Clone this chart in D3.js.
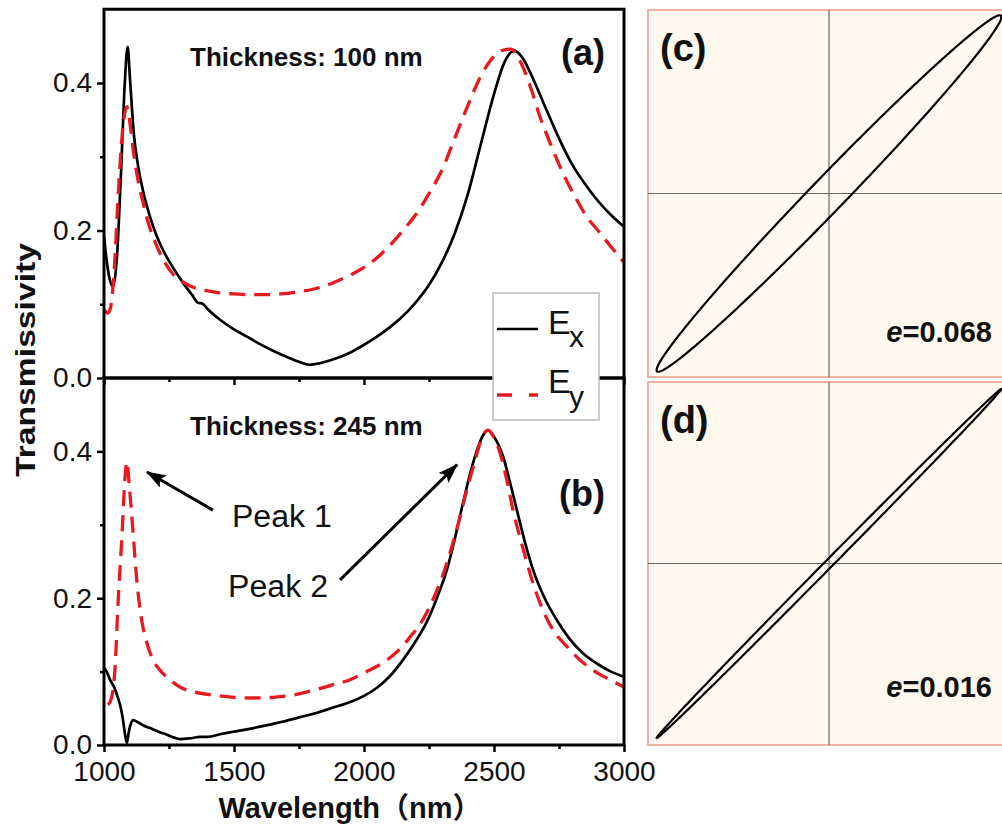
<!DOCTYPE html>
<html>
<head>
<meta charset="utf-8">
<script src="https://cdn.jsdelivr.net/npm/d3@7"></script>
<style>
  body { margin: 0; background: #fff; }
</style>
</head>
<body>
<div id="chart"></div>
<script>
// Axis ticks
const wavelengthTicks = [1000, 1500, 2000, 2500, 3000];
const wavelengthMinor = [1250, 1750, 2250, 2750];
const transTicks = [0, 0.2, 0.4];
const transMinor = [0.1, 0.3];

// Spectra, [wavelength nm, transmissivity]
const ex100 = [[1000,0.192],[1010,0.16],[1020,0.137],[1035,0.124],[1050,0.165],[1065,0.275],[1080,0.40],[1091,0.449],
  [1100,0.405],[1115,0.33],[1130,0.29],[1150,0.254],[1175,0.221],[1200,0.195],[1235,0.168],[1265,0.15],[1300,0.131],
  [1340,0.112],[1362,0.102],[1378,0.101],[1400,0.093],[1450,0.078],[1500,0.066],[1550,0.056],[1600,0.046],[1650,0.037],
  [1700,0.029],[1750,0.022],[1790,0.018],[1830,0.02],[1880,0.025],[1950,0.035],[2000,0.045],[2050,0.056],[2100,0.069],
  [2150,0.084],[2200,0.103],[2250,0.126],[2300,0.157],[2350,0.197],[2400,0.25],[2450,0.318],[2500,0.385],[2540,0.428],
  [2578,0.444],[2610,0.434],[2650,0.406],[2700,0.365],[2750,0.325],[2800,0.29],[2850,0.263],[2900,0.24],[2950,0.221],[3000,0.205]];
const ey100 = [[1000,0.092],[1015,0.088],[1025,0.095],[1040,0.15],[1055,0.25],[1070,0.33],[1088,0.368],[1100,0.345],
  [1112,0.31],[1130,0.27],[1150,0.238],[1175,0.205],[1204,0.178],[1235,0.156],[1265,0.141],[1300,0.131],[1350,0.122],
  [1400,0.118],[1450,0.115],[1500,0.114],[1560,0.113],[1620,0.113],[1680,0.114],[1750,0.117],[1800,0.12],[1850,0.125],
  [1900,0.132],[1950,0.14],[2000,0.15],[2050,0.163],[2100,0.18],[2150,0.2],[2200,0.222],[2250,0.25],[2300,0.282],
  [2350,0.326],[2400,0.37],[2450,0.41],[2500,0.436],[2540,0.445],[2565,0.446],[2600,0.43],[2640,0.395],[2677,0.354],
  [2720,0.315],[2765,0.278],[2810,0.247],[2858,0.218],[2900,0.2],[2950,0.178],[3000,0.157]];
const ex245 = [[1000,0.105],[1010,0.1],[1023,0.089],[1040,0.078],[1054,0.064],[1065,0.05],[1073,0.034],[1082,0.012],
  [1088,0.003],[1094,0.015],[1100,0.025],[1112,0.034],[1130,0.031],[1150,0.027],[1177,0.023],[1210,0.018],[1242,0.014],
  [1270,0.01],[1292,0.008],[1330,0.009],[1369,0.011],[1400,0.011],[1450,0.015],[1496,0.018],[1560,0.022],[1627,0.027],
  [1690,0.032],[1754,0.038],[1820,0.044],[1881,0.051],[1950,0.059],[2000,0.067],[2050,0.078],[2100,0.094],[2150,0.116],
  [2200,0.142],[2242,0.168],[2280,0.2],[2319,0.239],[2350,0.282],[2381,0.33],[2410,0.372],[2435,0.402],[2458,0.422],
  [2477,0.429],[2500,0.42],[2535,0.393],[2560,0.36],[2588,0.32],[2620,0.275],[2650,0.239],[2695,0.2],[2742,0.17],
  [2790,0.145],[2842,0.125],[2900,0.11],[2950,0.1],[3000,0.093]];
const ey245 = [[1015,0.055],[1025,0.06],[1042,0.102],[1054,0.193],[1069,0.284],[1080,0.36],[1088,0.386],[1098,0.35],
  [1108,0.307],[1127,0.221],[1145,0.17],[1165,0.139],[1190,0.115],[1215,0.102],[1250,0.09],[1292,0.079],[1350,0.072],
  [1419,0.068],[1500,0.065],[1573,0.064],[1650,0.065],[1727,0.068],[1800,0.074],[1870,0.081],[1946,0.089],[2010,0.1],
  [2073,0.112],[2130,0.128],[2177,0.147],[2225,0.17],[2265,0.198],[2300,0.228],[2331,0.262],[2365,0.305],[2396,0.348],
  [2425,0.385],[2446,0.411],[2465,0.426],[2477,0.429],[2495,0.422],[2523,0.398],[2550,0.36],[2573,0.32],[2600,0.283],
  [2627,0.248],[2655,0.215],[2688,0.184],[2730,0.155],[2781,0.134],[2830,0.116],[2881,0.102],[2940,0.09],[3000,0.079]];

// Panel texts
const panelLabels = ["(a)", "(b)"];
const thicknessLabels = ["Thickness: 100 nm", "Thickness: 245 nm"];
const seriesNames = ["E", "E"];
const seriesSubs = ["x", "y"];

// Annotation arrows in panel (b): [tail, tip] in data units
const peakNames = ["Peak 1", "Peak 2"];
const peakArrows = [[[1419, 0.32], [1165, 0.372]], [[1908, 0.225], [2358, 0.382]]];
const peakTextPos = [[1492, 0.297], [1477, 0.202]];

// Polarisation ellipses (c), (d)
const ellipseLabels = ["(c)", "(d)"];
const ellipseE = ["0.068", "0.016"];
const ellipseAmpX = [1.0, 1.0];
const ellipseAmpY = [1.02, 1.01];
const ellipsePhase = [0.137, 0.032];

const red = "#e8191f";
const font = "Arial, 'Liberation Sans', 'Noto Sans CJK SC', sans-serif";

const svg = d3.select("#chart")
    .append("svg")
    .attr("width", 1002)
    .attr("height", 828)
    .style("font-family", font);

const defs = svg.append("defs");
defs.append("marker")
    .attr("id", "arrow")
    .attr("markerUnits", "userSpaceOnUse")
    .attr("viewBox", "0 0 20 14")
    .attr("markerWidth", 20)
    .attr("markerHeight", 14)
    .attr("refX", 19)
    .attr("refY", 7)
    .attr("orient", "auto")
    .append("path")
    .attr("d", "M0,0 L20,7 L0,14 L4,7 Z")
    .attr("fill", "#000");

// Scales
const x = d3.scaleLinear().domain([1000, 3000]).range([104, 624]);
const yScales = [
    d3.scaleLinear().domain([0, 0.5]).range([378, 9.25]),
    d3.scaleLinear().domain([0, 0.5]).range([745, 378])
];

const panels = [
    {ex: ex100, ey: ey100},
    {ex: ex245, ey: ey245}
];

function styleAxis(g, width) {
    g.select(".domain").remove();
    g.selectAll(".tick line").attr("stroke", "#000").attr("stroke-width", width);
    g.selectAll(".tick text")
        .attr("fill", "#111")
        .style("font-size", "28px")
        .style("font-family", font);
}

panels.forEach((p, i) => {
    const y = yScales[i];
    const top = y.range()[1], bottom = y.range()[0];
    const g = svg.append("g");

    defs.append("clipPath").attr("id", "clip" + i)
        .append("rect")
        .attr("x", 104).attr("y", top)
        .attr("width", 520).attr("height", bottom - top);

    const line = d3.line()
        .x(d => x(d[0]))
        .y(d => y(d[1]))
        .curve(d3.curveMonotoneX);

    g.append("path")
        .datum(p.ex)
        .attr("d", line)
        .attr("fill", "none")
        .attr("stroke", "#000")
        .attr("stroke-width", 2.7)
        .attr("clip-path", `url(#clip${i})`);

    g.append("path")
        .datum(p.ey)
        .attr("d", line)
        .attr("fill", "none")
        .attr("stroke", red)
        .attr("stroke-width", 3.3)
        .attr("stroke-dasharray", "16,9")
        .attr("clip-path", `url(#clip${i})`);

    // Y axis
    g.append("g")
        .attr("transform", "translate(104,0)")
        .call(d3.axisLeft(y).tickValues(transTicks).tickFormat(d3.format(".1f")).tickSize(7).tickPadding(5))
        .call(a => styleAxis(a, 2.5));
    g.append("g")
        .attr("transform", "translate(104,0)")
        .call(d3.axisLeft(y).tickValues(transMinor).tickFormat("").tickSize(4))
        .call(a => styleAxis(a, 2.5));

    // X axis
    g.append("g")
        .attr("transform", `translate(0,${bottom})`)
        .call(d3.axisBottom(x).tickValues(wavelengthTicks).tickSize(7).tickPadding(9)
            .tickFormat(i === 1 ? d3.format("d") : ""))
        .call(a => styleAxis(a, 2.5));
    g.append("g")
        .attr("transform", `translate(0,${bottom})`)
        .call(d3.axisBottom(x).tickValues(wavelengthMinor).tickFormat("").tickSize(4))
        .call(a => styleAxis(a, 2.5));

    // Frame
    g.append("rect")
        .attr("x", 104).attr("y", top)
        .attr("width", 520).attr("height", bottom - top)
        .attr("fill", "none")
        .attr("stroke", "#000")
        .attr("stroke-width", 3);

    g.append("text")
        .attr("x", x(1331))
        .attr("y", y(0.423))
        .attr("font-weight", "bold")
        .attr("font-size", 26)
        .attr("fill", "#111")
        .text(thicknessLabels[i]);

    g.append("text")
        .attr("x", 605)
        .attr("y", i === 0 ? 64.5 : 505.5)
        .attr("text-anchor", "end")
        .attr("font-weight", "bold")
        .attr("font-size", 36)
        .attr("fill", "#111")
        .text(panelLabels[i]);
});

// Peak annotations in panel (b)
const yb = yScales[1];
peakArrows.forEach((a, i) => {
    svg.append("line")
        .attr("x1", x(a[0][0])).attr("y1", yb(a[0][1]))
        .attr("x2", x(a[1][0])).attr("y2", yb(a[1][1]))
        .attr("stroke", "#000")
        .attr("stroke-width", 3)
        .attr("marker-end", "url(#arrow)");
    svg.append("text")
        .attr("x", x(peakTextPos[i][0]))
        .attr("y", yb(peakTextPos[i][1]))
        .attr("font-size", 31)
        .attr("textLength", 100)
        .attr("lengthAdjust", "spacingAndGlyphs")
        .attr("fill", "#111")
        .text(peakNames[i]);
});

// Axis titles
svg.append("text")
    .attr("transform", "translate(35,360) rotate(-90)")
    .attr("text-anchor", "middle")
    .attr("font-weight", "bold")
    .attr("font-size", 28)
    .attr("textLength", 234)
    .attr("lengthAdjust", "spacingAndGlyphs")
    .attr("fill", "#111")
    .text("Transmissivity");

svg.append("text")
    .attr("x", 350)
    .attr("y", 818)
    .attr("text-anchor", "middle")
    .attr("font-weight", "bold")
    .attr("font-size", 29)
    .attr("fill", "#111")
    .text("Wavelength（nm）");

// Legend
const legend = svg.append("g");
legend.append("rect")
    .attr("x", 493).attr("y", 293)
    .attr("width", 106).attr("height", 127)
    .attr("fill", "#fff")
    .attr("stroke", "#bbb")
    .attr("stroke-width", 1.5);
const legendY = [329, 395];
const legendBase = [334, 393];
const subBase = [347, 407];
seriesSubs.forEach((s, i) => {
    legend.append("line")
        .attr("x1", 497).attr("x2", 538)
        .attr("y1", legendY[i]).attr("y2", legendY[i])
        .attr("stroke", i === 0 ? "#000" : red)
        .attr("stroke-width", i === 0 ? 2.7 : 3.3)
        .attr("stroke-dasharray", i === 0 ? null : "15,17");
    legend.append("text")
        .attr("x", 548).attr("y", legendBase[i])
        .attr("font-size", 34)
        .attr("fill", "#111")
        .text(seriesNames[i]);
    legend.append("text")
        .attr("x", 569).attr("y", subBase[i])
        .attr("font-size", 30)
        .attr("fill", "#111")
        .text(s);
});

// Polarisation ellipse panels
const ellipseBoxes = [[10, 377], [382, 745]];
const ex = d3.scaleLinear().domain([-1.05, 1.05]).range([648, 1010]);
ellipseLabels.forEach((lab, i) => {
    const [t0, t1] = ellipseBoxes[i];
    const ey = d3.scaleLinear().domain([-1.05, 1.05]).range([t1, t0]);
    const g = svg.append("g");

    g.append("rect")
        .attr("x", 648).attr("y", t0)
        .attr("width", 400).attr("height", t1 - t0)
        .attr("fill", "#fdf9ef")
        .attr("stroke", "#eeb2a3")
        .attr("stroke-width", 2);

    g.append("line")
        .attr("x1", ex(0)).attr("x2", ex(0))
        .attr("y1", t0).attr("y2", t1)
        .attr("stroke", "#666").attr("stroke-width", 1.2);
    g.append("line")
        .attr("x1", 648).attr("x2", 1002)
        .attr("y1", ey(0)).attr("y2", ey(0))
        .attr("stroke", "#666").attr("stroke-width", 1.2);

    const pts = d3.range(0, 360).map(k => {
        const t = k * Math.PI / 180;
        return [ellipseAmpX[i] * Math.cos(t), ellipseAmpY[i] * Math.cos(t + ellipsePhase[i])];
    });
    g.append("path")
        .datum(pts)
        .attr("d", d3.line().x(d => ex(d[0])).y(d => ey(d[1])).curve(d3.curveLinearClosed))
        .attr("fill", "none")
        .attr("stroke", "#000")
        .attr("stroke-width", 2.2);

    g.append("text")
        .attr("x", 660)
        .attr("y", t0 + 51)
        .attr("font-weight", "bold")
        .attr("font-size", 38)
        .attr("fill", "#111")
        .text(lab);

    const et = g.append("text")
        .attr("x", 992)
        .attr("y", i === 0 ? 342 : 697)
        .attr("text-anchor", "end")
        .attr("font-weight", "bold")
        .attr("font-size", 29)
        .attr("fill", "#111");
    et.append("tspan").attr("font-style", "italic").text("e");
    et.append("tspan").text("=" + ellipseE[i]);
});
</script>
</body>
</html>
